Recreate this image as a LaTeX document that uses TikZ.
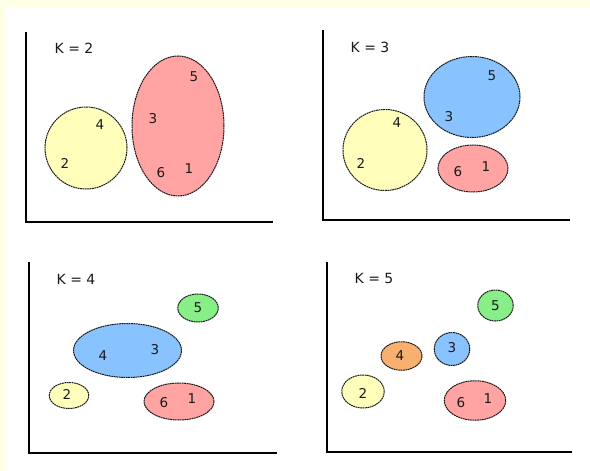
\documentclass[tikz,border=0pt]{standalone}
\usepackage{fontspec}
\setmainfont{DejaVu Sans}
\usetikzlibrary{shapes.geometric}
\definecolor{cream}{HTML}{FFFFE6}
\definecolor{cyel}{HTML}{FFFFBB}
\definecolor{cpink}{HTML}{FFA3A3}
\definecolor{cblue}{HTML}{88C2FF}
\definecolor{cgreen}{HTML}{88EE88}
\definecolor{corange}{HTML}{F8B070}
\definecolor{txt}{HTML}{1A1A1A}
\tikzset{
  clus/.style={ellipse, draw=black!90, line width=1pt, dash pattern=on 1.8pt off 0.6pt, inner sep=0pt},
  lbl/.style={font=\fontsize{13.5}{16}\selectfont, text=txt, inner sep=0pt},
  ktxt/.style={font=\fontsize{14}{16}\selectfont, text=txt, inner sep=0pt},
  axis/.style={line width=2.8pt, black},
}
\begin{document}
\begin{tikzpicture}[x=1pt,y=-1pt]
\useasboundingbox (0,0) rectangle (590,471);
\fill[cream] (0,0) rectangle (590,471);
\fill[white] (6,7) rectangle (590,471);

% ---------- Panel 1: K = 2
\coordinate (a1t) at (26,32);
\coordinate (a1o) at (26,222);
\coordinate (a1r) at (273,222);
\draw[axis] (a1t) -- (a1o) -- (a1r);
\node[ktxt] (k2) at (74,48) {K = 2};
\node[clus, fill=cyel, minimum width=82pt, minimum height=82pt] (p1y) at (86,148) {};
\node[clus, fill=cpink, minimum width=92pt, minimum height=140pt] (p1p) at (178,126) {};
\node[lbl] (p1n4) at (100,125) {4};
\node[lbl] (p1n2) at (65,163) {2};
\node[lbl] (p1n5) at (194,77) {5};
\node[lbl] (p1n3) at (153,119) {3};
\node[lbl] (p1n6) at (161,173) {6};
\node[lbl] (p1n1) at (189,169) {1};

% ---------- Panel 2: K = 3
\coordinate (a2t) at (323,30);
\coordinate (a2o) at (323,220);
\coordinate (a2r) at (570,220);
\draw[axis] (a2t) -- (a2o) -- (a2r);
\node[ktxt] (k3) at (370,47) {K = 3};
\node[clus, fill=cblue, minimum width=96pt, minimum height=81pt] (p2b) at (472,97) {};
\node[clus, fill=cyel, minimum width=84pt, minimum height=81pt] (p2y) at (385,150) {};
\node[clus, fill=cpink, minimum width=70pt, minimum height=47pt] (p2p) at (473,168.5) {};
\node[lbl] (p2n5) at (492,76) {5};
\node[lbl] (p2n3) at (449,117) {3};
\node[lbl] (p2n4) at (397,123) {4};
\node[lbl] (p2n2) at (361,163) {2};
\node[lbl] (p2n6) at (458,172) {6};
\node[lbl] (p2n1) at (486,167) {1};

% ---------- Panel 3: K = 4
\coordinate (a3t) at (29,262);
\coordinate (a3o) at (29,453);
\coordinate (a3r) at (277,453);
\draw[axis] (a3t) -- (a3o) -- (a3r);
\node[ktxt] (k4) at (76,279) {K = 4};
\node[clus, fill=cgreen, minimum width=40.5pt, minimum height=28pt] (p3g) at (198,308) {};
\node[clus, fill=cblue, minimum width=108pt, minimum height=54pt] (p3b) at (127.5,350.5) {};
\node[clus, fill=cyel, minimum width=39.5pt, minimum height=26pt] (p3y) at (69,395.5) {};
\node[clus, fill=cpink, minimum width=70pt, minimum height=37pt] (p3p) at (179,401.5) {};
\node[lbl] (p3n5) at (198,308) {5};
\node[lbl] (p3n4) at (103,356) {4};
\node[lbl] (p3n3) at (155,350) {3};
\node[lbl] (p3n2) at (67,394) {2};
\node[lbl] (p3n6) at (164,403) {6};
\node[lbl] (p3n1) at (192,399) {1};

% ---------- Panel 4: K = 5
\coordinate (a4t) at (327,262);
\coordinate (a4o) at (327,452);
\coordinate (a4r) at (572,452);
\draw[axis] (a4t) -- (a4o) -- (a4r);
\node[ktxt] (k5) at (374,278) {K = 5};
\node[clus, fill=cgreen, minimum width=35.5pt, minimum height=31pt] (p4g) at (495.5,305.5) {};
\node[clus, fill=cblue, minimum width=35.5pt, minimum height=33pt] (p4b) at (452,349) {};
\node[clus, fill=corange, minimum width=41pt, minimum height=28.5pt] (p4o) at (401.5,356) {};
\node[clus, fill=cyel, minimum width=42.5pt, minimum height=33pt] (p4y) at (363,391.5) {};
\node[clus, fill=cpink, minimum width=61.5pt, minimum height=39.5pt] (p4p) at (475,400.5) {};
\node[lbl] (p4n5) at (495.5,305.5) {5};
\node[lbl] (p4n3) at (452,348) {3};
\node[lbl] (p4n4) at (400,356) {4};
\node[lbl] (p4n2) at (363,393) {2};
\node[lbl] (p4n6) at (461,403) {6};
\node[lbl] (p4n1) at (488,399) {1};
\end{tikzpicture}
\end{document}
